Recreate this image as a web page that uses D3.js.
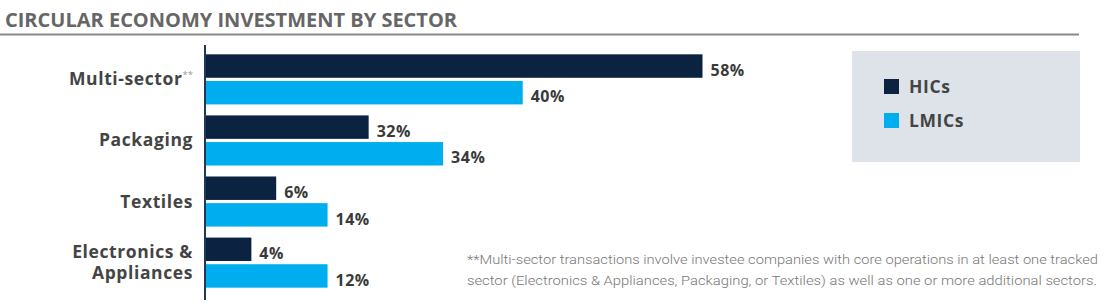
<!DOCTYPE html>
<html>
<head>
<meta charset="utf-8">
<script src="https://cdn.jsdelivr.net/npm/d3@7"></script>
<style>
  body { margin: 0; background: #fff; }
  svg { display: block; font-family: "Open Sans", sans-serif; }
</style>
</head>
<body>
<div id="chart"></div>
<script>
// categories and series
const sectors = ["Multi-sector", "Packaging", "Textiles", "Electronics & Appliances"];
const sectorLines = [["Multi-sector"], ["Packaging"], ["Textiles"], ["Electronics &", "Appliances"]];
const seriesNames = ["HICs", "LMICs"];
// printed shares
const hicLabels = ["58%", "32%", "6%", "4%"];
const lmicLabels = ["40%", "34%", "14%", "12%"];
// bar lengths as drawn in the source (same % scale as the 58% bar)
const hicBars = [58, 19, 8.2, 5.3];
const lmicBars = [37, 27.7, 14.2, 14.2];
const footnoteLines = [
    "**Multi-sector transactions involve investee companies with core operations in at least one tracked",
    "sector (Electronics & Appliances, Packaging, or Textiles) as well as one or more additional sectors."
];

const WIDTH = 1108;
const HEIGHT = 306;
const AXIS_X = 206;
const COLORS = ["#0b2240", "#00aeef"];

const svg = d3.select("#chart")
    .append("svg")
    .attr("width", WIDTH)
    .attr("height", HEIGHT);

// title + rule
svg.append("text")
    .attr("x", 5)
    .attr("y", 27)
    .attr("font-size", 20)
    .attr("font-weight", 700)
    .attr("fill", "#666")
    .text("CIRCULAR ECONOMY INVESTMENT BY SECTOR");

svg.append("line")
    .attr("x1", 0).attr("x2", 1079)
    .attr("y1", 34.5).attr("y2", 34.5)
    .attr("stroke", "#888")
    .attr("stroke-width", 2);

// scales
const xScale = d3.scaleLinear()
    .domain([0, 58])
    .range([AXIS_X, 702.5]);

const yScale = d3.scaleBand()
    .domain(sectors)
    .range([47, 295])
    .paddingInner(0.18)
    .paddingOuter(0.12);

const ySub = d3.scaleBand()
    .domain(seriesNames)
    .range([0, yScale.bandwidth()])
    .paddingInner(0.12);

const rows = sectors.map((s, i) => ({
    sector: s,
    bars: [
        {series: "HICs", value: hicBars[i], label: hicLabels[i], color: COLORS[0]},
        {series: "LMICs", value: lmicBars[i], label: lmicLabels[i], color: COLORS[1]}
    ]
}));

const group = svg.selectAll("g.row")
    .data(rows)
    .join("g")
    .attr("class", "row")
    .attr("transform", d => `translate(0,${yScale(d.sector)})`);

group.selectAll("rect")
    .data(d => d.bars)
    .join("rect")
    .attr("x", xScale(0))
    .attr("y", d => ySub(d.series))
    .attr("width", d => xScale(d.value) - xScale(0))
    .attr("height", ySub.bandwidth())
    .attr("fill", d => d.color);

group.selectAll("text.val")
    .data(d => d.bars)
    .join("text")
    .attr("class", "val")
    .attr("x", d => xScale(d.value) + 8)
    .attr("y", d => ySub(d.series) + ySub.bandwidth() - 2)
    .attr("font-size", 16)
    .attr("font-weight", 700)
    .attr("letter-spacing", 0.5)
    .attr("fill", "#3a3a3a")
    .text(d => d.label);

// category labels
const LINE_GAP = 21;
const catLabel = group.append("text")
    .attr("text-anchor", "end")
    .attr("font-size", 17.5)
    .attr("font-weight", 700)
    .attr("letter-spacing", 0.6)
    .attr("fill", "#444")
    .attr("y", (d, i) => yScale.bandwidth() / 2 + 6 - (sectorLines[i].length - 1) * LINE_GAP / 2);

catLabel.each(function (d, i) {
    const t = d3.select(this);
    sectorLines[i].forEach((line, j) => {
        t.append("tspan")
            .attr("x", 193)
            .attr("dy", j === 0 ? 0 : LINE_GAP)
            .text(line);
    });
    if (d.sector === "Multi-sector") {
        t.append("tspan")
            .attr("font-size", 9.5)
            .attr("font-weight", 400)
            .attr("letter-spacing", 0)
            .attr("fill", "#999")
            .attr("dy", -7)
            .text("**");
    }
});

// axis line
svg.append("line")
    .attr("x1", AXIS_X - 1).attr("x2", AXIS_X - 1)
    .attr("y1", 45).attr("y2", 300)
    .attr("stroke", "#1f3a56")
    .attr("stroke-width", 2);

// legend
const legend = svg.append("g");
legend.append("rect")
    .attr("x", 852).attr("y", 51)
    .attr("width", 228).attr("height", 111)
    .attr("fill", "#dde3e8");

const legendItem = legend.selectAll("g.item")
    .data(seriesNames)
    .join("g")
    .attr("class", "item")
    .attr("transform", (d, i) => `translate(884,${79 + i * 34})`);

legendItem.append("rect")
    .attr("width", 15).attr("height", 15)
    .attr("fill", (d, i) => COLORS[i]);

legendItem.append("text")
    .attr("x", 25)
    .attr("y", 14)
    .attr("font-size", 17.5)
    .attr("font-weight", 700)
    .attr("letter-spacing", 0.6)
    .attr("fill", "#444")
    .text(d => d);

// footnote
svg.append("g")
    .selectAll("text")
    .data(footnoteLines)
    .join("text")
    .attr("x", 467)
    .attr("y", (d, i) => 264 + i * 21)
    .attr("font-family", "Roboto, sans-serif")
    .attr("font-size", 13)
    .attr("font-weight", 300)
    .attr("fill", "#777")
    .attr("textLength", (d, i) => i === 0 ? 631 : 630)
    .attr("lengthAdjust", "spacingAndGlyphs")
    .text(d => d);
</script>
</body>
</html>
